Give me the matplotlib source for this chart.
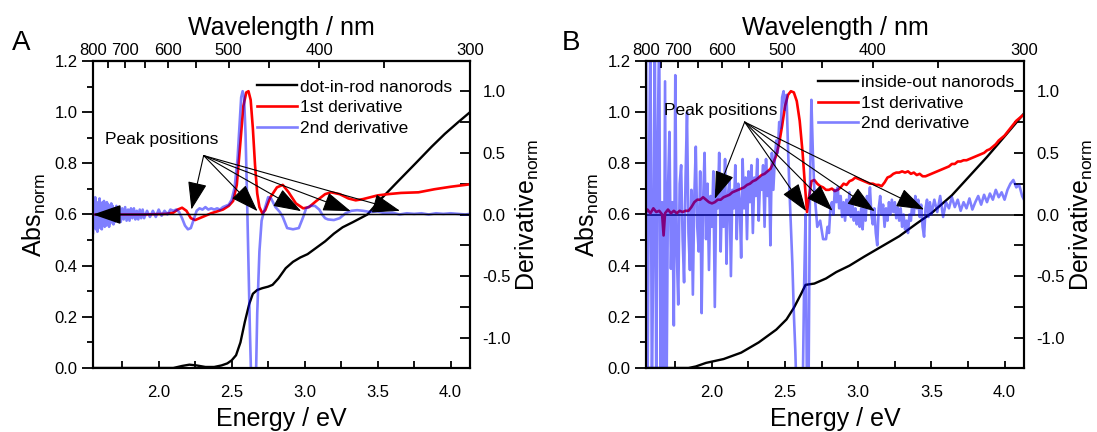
import numpy as np
import matplotlib.pyplot as plt
from matplotlib.ticker import MultipleLocator, FixedLocator, FormatStrFormatter

plt.rcParams['font.family'] = ['Liberation Sans', 'DejaVu Sans']
plt.rcParams['mathtext.default'] = 'regular'

HC = 1239.84
E_MIN, E_MAX = HC / 800, HC / 300

# ---- panel A: dot-in-rod nanorods (energy eV, value) ----
a_abs = [(1.55, 0.0), (2.10, 0.0), (2.16, 0.008), (2.21, 0.013), (2.26, 0.01), (2.32, 0.004),
         (2.38, 0.004), (2.43, 0.01), (2.47, 0.018), (2.50, 0.03), (2.53, 0.05), (2.56, 0.1),
         (2.59, 0.18), (2.62, 0.25), (2.645, 0.29), (2.675, 0.305), (2.71, 0.312), (2.75, 0.318),
         (2.78, 0.325), (2.82, 0.35), (2.87, 0.39), (2.92, 0.415), (2.97, 0.432), (3.02, 0.445),
         (3.08, 0.47), (3.14, 0.495), (3.20, 0.525), (3.26, 0.55), (3.33, 0.57), (3.43, 0.6),
         (3.53, 0.665), (3.64, 0.73), (3.76, 0.8), (3.87, 0.865), (3.96, 0.915), (4.05, 0.96),
         (4.133, 1.0)]

a_d1 = [(1.55, 0.0), (1.70, 0.0), (1.90, 0.0), (2.05, 0.005), (2.10, 0.015), (2.13, 0.04),
        (2.16, 0.055), (2.19, 0.03), (2.22, -0.03), (2.25, -0.045), (2.28, -0.03), (2.32, -0.01),
        (2.36, 0.01), (2.40, 0.025), (2.44, 0.04), (2.48, 0.07), (2.51, 0.11), (2.535, 0.24),
        (2.56, 0.59), (2.58, 0.88), (2.60, 0.99), (2.615, 1.0), (2.63, 0.93), (2.645, 0.7),
        (2.66, 0.4), (2.675, 0.17), (2.69, 0.06), (2.71, 0.01), (2.73, 0.035), (2.765, 0.14),
        (2.81, 0.22), (2.85, 0.24), (2.89, 0.18), (2.94, 0.09), (2.99, 0.05), (3.03, 0.06),
        (3.08, 0.11), (3.14, 0.165), (3.18, 0.18), (3.24, 0.165), (3.30, 0.13), (3.35, 0.115),
        (3.40, 0.125), (3.45, 0.14), (3.50, 0.155), (3.57, 0.165), (3.66, 0.175), (3.78, 0.18),
        (3.89, 0.205), (4.00, 0.225), (4.133, 0.245)]

a_d2 = [(1.55, -0.15), (1.555, 0.12), (1.56, -0.1), (1.565, 0.14), (1.57, -0.12), (1.575, 0.08),
        (1.58, -0.14), (1.585, 0.1), (1.59, -0.06), (1.595, 0.13), (1.60, -0.11), (1.605, 0.07),
        (1.61, -0.12), (1.615, 0.1), (1.62, -0.05), (1.625, 0.11), (1.63, -0.1), (1.635, 0.06),
        (1.64, -0.09), (1.645, 0.1), (1.65, -0.06), (1.655, 0.08), (1.66, -0.1), (1.665, 0.05),
        (1.67, -0.07), (1.675, 0.09), (1.68, -0.05), (1.685, 0.07), (1.69, -0.08), (1.695, 0.05),
        (1.70, -0.06), (1.71, 0.07), (1.72, -0.05), (1.73, 0.06), (1.74, -0.06), (1.75, 0.05),
        (1.76, -0.04), (1.77, 0.06), (1.78, -0.05), (1.79, 0.04), (1.80, -0.05), (1.81, 0.05),
        (1.82, -0.03), (1.83, 0.05), (1.84, -0.04), (1.85, 0.03), (1.86, -0.04), (1.87, 0.04),
        (1.88, -0.03), (1.89, 0.04), (1.90, -0.03), (1.92, 0.03), (1.94, -0.02), (1.96, 0.03),
        (1.98, -0.02), (2.00, 0.04), (2.02, -0.01), (2.04, 0.03), (2.06, 0.0), (2.08, 0.04),
        (2.10, 0.03), (2.12, 0.04), (2.14, 0.02), (2.16, -0.03), (2.18, -0.09), (2.20, -0.12),
        (2.22, -0.11), (2.24, -0.04), (2.26, 0.03), (2.28, 0.05), (2.30, 0.04), (2.32, 0.06),
        (2.34, 0.04), (2.36, 0.05), (2.38, 0.04), (2.40, 0.05), (2.42, 0.04), (2.44, 0.06),
        (2.46, 0.07), (2.48, 0.08), (2.50, 0.12), (2.52, 0.22), (2.54, 0.45), (2.555, 0.75),
        (2.565, 0.95), (2.575, 1.0), (2.585, 0.95), (2.595, 0.65), (2.605, 0.15), (2.615, -0.4),
        (2.625, -0.95), (2.635, -1.4), (2.65, -1.6), (2.665, -1.4), (2.675, -0.8), (2.69, -0.3),
        (2.705, -0.05), (2.72, 0.02), (2.75, 0.14), (2.77, 0.13), (2.80, 0.06), (2.83, 0.02),
        (2.85, -0.02), (2.88, -0.11), (2.92, -0.12), (2.96, -0.11), (2.99, -0.02), (3.01, 0.05),
        (3.04, 0.07), (3.07, 0.07), (3.10, 0.04), (3.12, 0.0), (3.14, -0.03), (3.16, -0.04),
        (3.20, -0.045), (3.24, -0.03), (3.28, 0.01), (3.32, 0.03), (3.36, 0.035), (3.40, 0.03),
        (3.45, 0.02), (3.50, 0.025), (3.55, 0.01), (3.60, 0.015), (3.65, 0.0), (3.70, 0.01),
        (3.75, 0.005), (3.80, 0.01), (3.85, 0.0), (3.90, 0.01), (3.95, 0.005), (4.00, 0.01),
        (4.05, 0.005), (4.10, 0.0), (4.133, 0.005)]

a_label = 'dot-in-rod nanorods'
a_text = (1.634, 0.61)
a_arrow_from = (2.308, 0.478)
a_arrow_to = [(2.224, 0.04), (2.677, 0.027), (2.976, 0.027), (3.316, 0.027), (3.653, 0.03)]

# ---- panel B: inside-out nanorods ----
b_abs = [(1.54, 0.0), (1.84, 0.0), (1.89, 0.006), (1.96, 0.02), (2.08, 0.035), (2.20, 0.06),
         (2.32, 0.1), (2.44, 0.15), (2.51, 0.19), (2.56, 0.235), (2.61, 0.29), (2.64, 0.325),
         (2.70, 0.33), (2.78, 0.35), (2.85, 0.375), (2.94, 0.4), (3.04, 0.435), (3.16, 0.475),
         (3.28, 0.515), (3.40, 0.565), (3.50, 0.605), (3.64, 0.675), (3.76, 0.75), (3.88, 0.825),
         (4.00, 0.905), (4.133, 0.995)]

b_d1 = [(1.54, 0.0), (1.56, 0.04), (1.58, 0.01), (1.60, 0.05), (1.62, 0.02), (1.64, 0.03),
        (1.66, 0.0), (1.67, -0.17), (1.68, 0.01), (1.70, 0.04), (1.72, 0.01), (1.74, 0.03),
        (1.76, 0.01), (1.78, 0.03), (1.80, 0.02), (1.82, 0.03), (1.84, 0.03), (1.86, 0.06),
        (1.88, 0.1), (1.90, 0.12), (1.92, 0.12), (1.94, 0.14), (1.96, 0.12), (1.98, 0.1),
        (2.00, 0.09), (2.02, 0.1), (2.04, 0.12), (2.06, 0.12), (2.08, 0.14), (2.10, 0.15),
        (2.12, 0.16), (2.14, 0.18), (2.16, 0.19), (2.18, 0.2), (2.20, 0.21), (2.22, 0.22),
        (2.24, 0.24), (2.26, 0.25), (2.28, 0.27), (2.30, 0.28), (2.32, 0.3), (2.34, 0.32),
        (2.36, 0.33), (2.38, 0.35), (2.40, 0.37), (2.42, 0.42), (2.44, 0.48), (2.46, 0.58),
        (2.48, 0.72), (2.50, 0.88), (2.52, 0.97), (2.54, 1.0), (2.56, 0.99), (2.58, 0.92),
        (2.60, 0.76), (2.62, 0.5), (2.635, 0.25), (2.65, 0.02), (2.665, 0.15), (2.68, 0.27),
        (2.70, 0.28), (2.72, 0.25), (2.74, 0.23), (2.76, 0.22), (2.78, 0.2), (2.80, 0.2),
        (2.82, 0.21), (2.84, 0.19), (2.86, 0.2), (2.88, 0.22), (2.90, 0.25), (2.92, 0.24),
        (2.94, 0.27), (2.96, 0.28), (2.98, 0.3), (3.00, 0.29), (3.02, 0.28), (3.04, 0.27),
        (3.06, 0.26), (3.08, 0.25), (3.10, 0.25), (3.12, 0.24), (3.14, 0.24), (3.16, 0.23),
        (3.18, 0.26), (3.20, 0.3), (3.22, 0.31), (3.24, 0.33), (3.26, 0.34), (3.28, 0.34),
        (3.30, 0.35), (3.32, 0.34), (3.34, 0.35), (3.36, 0.33), (3.38, 0.34), (3.40, 0.32),
        (3.42, 0.33), (3.44, 0.31), (3.46, 0.31), (3.48, 0.32), (3.50, 0.33), (3.52, 0.34),
        (3.54, 0.35), (3.56, 0.36), (3.58, 0.37), (3.60, 0.38), (3.62, 0.39), (3.64, 0.41),
        (3.66, 0.41), (3.68, 0.43), (3.70, 0.43), (3.72, 0.44), (3.74, 0.44), (3.76, 0.45),
        (3.78, 0.46), (3.80, 0.47), (3.82, 0.48), (3.84, 0.49), (3.86, 0.5), (3.88, 0.52),
        (3.90, 0.53), (3.92, 0.55), (3.94, 0.57), (3.96, 0.6), (3.98, 0.62), (4.00, 0.64),
        (4.02, 0.67), (4.04, 0.7), (4.06, 0.73), (4.08, 0.76), (4.10, 0.78), (4.12, 0.8),
        (4.133, 0.81)]

b_d2 = [(1.54, 0.05), (1.55, 1.5), (1.56, -1.5), (1.57, 0.3), (1.58, 1.5), (1.59, -1.5),
        (1.60, -0.2), (1.61, 1.5), (1.62, -1.5), (1.63, 0.6), (1.64, 1.5), (1.65, -1.5),
        (1.66, 0.1), (1.67, -1.5), (1.68, 1.08), (1.69, -1.5), (1.70, 0.2), (1.71, 0.67),
        (1.72, -0.44), (1.73, 0.1), (1.74, -0.9), (1.75, 1.13), (1.76, -0.3), (1.77, -0.73),
        (1.78, 0.25), (1.79, 0.4), (1.80, -0.2), (1.81, -0.55), (1.82, 0.3), (1.83, 0.83),
        (1.84, -0.15), (1.85, -0.45), (1.86, 0.2), (1.87, -0.65), (1.88, 0.15), (1.89, 0.55),
        (1.90, -0.1), (1.91, -0.3), (1.92, 0.35), (1.93, -0.8), (1.94, 0.1), (1.95, 0.5),
        (1.96, -0.2), (1.97, 0.25), (1.98, -0.45), (1.99, 0.15), (2.00, -0.1), (2.01, 0.35),
        (2.02, -0.75), (2.03, 0.2), (2.04, 0.05), (2.05, 0.5), (2.06, -0.3), (2.07, 0.2),
        (2.08, -0.1), (2.09, 0.45), (2.10, -0.4), (2.11, 0.15), (2.12, 0.3), (2.13, -0.5),
        (2.14, 0.2), (2.15, 0.05), (2.16, 0.4), (2.17, -0.2), (2.18, 0.25), (2.19, 0.1),
        (2.20, -0.35), (2.21, 0.45), (2.22, 0.05), (2.23, 0.3), (2.24, -0.2), (2.25, 0.35),
        (2.26, 0.1), (2.27, 0.4), (2.28, -0.15), (2.29, 0.3), (2.30, 0.15), (2.31, 0.45),
        (2.32, -0.05), (2.33, 0.3), (2.34, 0.2), (2.35, 0.4), (2.36, -0.1), (2.37, 0.45),
        (2.38, 0.15), (2.39, 0.35), (2.40, -0.25), (2.41, 0.5), (2.42, 0.2), (2.43, 0.45),
        (2.44, 0.6), (2.45, 0.5), (2.46, 0.75), (2.47, 0.7), (2.48, 0.95), (2.49, 1.0),
        (2.50, 0.85), (2.51, 0.97), (2.52, 0.55), (2.53, 0.2), (2.54, -0.1), (2.55, -0.4),
        (2.56, -0.8), (2.57, -1.1), (2.58, -1.5), (2.60, -1.6), (2.62, -1.5), (2.63, -0.6),
        (2.64, 0.0), (2.65, -1.5), (2.66, -1.5), (2.67, 0.2), (2.68, 0.93), (2.69, 0.5),
        (2.70, 0.2), (2.72, -0.1), (2.74, -0.05), (2.76, -0.2), (2.78, -0.2), (2.79, -0.1),
        (2.80, -0.15), (2.81, 0.05), (2.82, 0.1), (2.83, 0.0), (2.84, 0.2), (2.85, 0.1),
        (2.86, 0.22), (2.87, 0.05), (2.88, 0.15), (2.89, -0.02), (2.90, 0.1), (2.91, -0.05),
        (2.92, 0.12), (2.93, 0.0), (2.94, 0.18), (2.95, -0.02), (2.96, 0.1), (2.97, -0.05),
        (2.98, 0.05), (2.99, -0.08), (3.00, 0.02), (3.01, -0.1), (3.02, 0.05), (3.03, -0.12),
        (3.04, 0.1), (3.05, -0.05), (3.06, 0.15), (3.07, 0.05), (3.08, 0.22), (3.09, 0.0),
        (3.10, -0.08), (3.11, 0.05), (3.12, -0.15), (3.13, -0.25), (3.14, 0.05), (3.15, 0.15),
        (3.16, 0.0), (3.17, 0.08), (3.18, -0.1), (3.19, 0.05), (3.20, -0.05), (3.21, 0.1),
        (3.22, 0.0), (3.23, 0.12), (3.24, 0.02), (3.25, 0.1), (3.26, -0.03), (3.27, 0.06),
        (3.28, -0.05), (3.29, 0.05), (3.30, -0.1), (3.31, 0.0), (3.32, -0.12), (3.33, -0.05),
        (3.34, -0.15), (3.35, 0.0), (3.36, -0.05), (3.37, 0.1), (3.38, 0.0), (3.39, 0.15),
        (3.40, 0.05), (3.41, 0.12), (3.42, -0.02), (3.43, 0.08), (3.44, -0.1), (3.45, -0.18),
        (3.46, 0.05), (3.47, 0.12), (3.48, -0.02), (3.49, 0.1), (3.50, 0.0), (3.52, 0.12),
        (3.54, 0.02), (3.56, 0.15), (3.58, -0.02), (3.60, 0.1), (3.62, 0.05), (3.64, 0.14),
        (3.66, 0.06), (3.68, 0.12), (3.70, 0.03), (3.72, 0.1), (3.74, 0.05), (3.76, 0.13),
        (3.78, 0.04), (3.80, 0.1), (3.82, 0.15), (3.84, 0.08), (3.86, 0.16), (3.88, 0.1),
        (3.90, 0.17), (3.92, 0.12), (3.94, 0.2), (3.96, 0.14), (3.98, 0.18), (4.00, 0.12),
        (4.02, 0.2), (4.04, 0.25), (4.06, 0.28), (4.08, 0.22), (4.10, 0.24), (4.12, 0.15),
        (4.133, 0.12)]

b_label = 'inside-out nanorods'
b_text = (1.67, 0.84)
b_arrow_from = (2.224, 0.75)
b_arrow_to = [(2.02, 0.127), (2.644, 0.027), (2.825, 0.03), (3.113, 0.027), (3.45, 0.04)]

wl_major = [800, 700, 600, 500, 400, 300]
wl_minor = [750, 650, 550, 450, 350]


def e2nm(x):
    x = np.asarray(x, dtype=float)
    with np.errstate(divide='ignore'):
        return HC / x


def arrow_props(lw=0.8):
    return dict(arrowstyle='-|>,head_length=1.1,head_width=0.38', mutation_scale=16,
                lw=lw, color='k', shrinkA=0, shrinkB=0)


def draw_panel(ax, absd, d1, d2, label, text_xy, arr_from, arr_to, leg_anchor, zero_arrow):
    ax2 = ax.twinx()
    e, a = np.array(absd).T
    l0, = ax.plot(e, a, color='black', lw=1.7)
    ax.set_xlim(E_MIN, E_MAX)
    ax.set_ylim(0, 1.2)
    ax2.set_ylim(-1.245, 1.245)

    # zero line of the derivatives
    if zero_arrow:
        ax2.annotate('', xy=(E_MIN, 0), xytext=(E_MAX, 0), arrowprops=arrow_props(1.1))
    else:
        ax2.axhline(0, color='k', lw=1.1)

    e1, v1 = np.array(d1).T
    l1, = ax2.plot(e1, v1, color='#ff0000', lw=1.9)
    e2, v2 = np.array(d2).T
    l2, = ax2.plot(e2, v2, color='#0000ff', alpha=0.5, lw=1.9)

    ax2.text(text_xy[0], text_xy[1], 'Peak positions', fontsize=12.5, va='center', ha='left')
    for tip in arr_to:
        ax2.annotate('', xy=tip, xytext=arr_from, arrowprops=arrow_props())

    ax2.legend([l0, l1, l2], [label, '1st derivative', '2nd derivative'],
               loc='upper left', bbox_to_anchor=leg_anchor, frameon=False, fontsize=12.5,
               handlelength=2.3, handletextpad=0.2, labelspacing=0.32, borderpad=0,
               borderaxespad=0)

    # axes styling
    ax.xaxis.set_major_locator(MultipleLocator(0.5))
    ax.xaxis.set_minor_locator(MultipleLocator(0.25))
    ax.xaxis.set_major_formatter(FormatStrFormatter('%.1f'))
    ax.yaxis.set_major_locator(MultipleLocator(0.2))
    ax.yaxis.set_minor_locator(MultipleLocator(0.1))
    ax.yaxis.set_major_formatter(FormatStrFormatter('%.1f'))
    ax2.yaxis.set_major_locator(MultipleLocator(0.5))
    ax2.yaxis.set_minor_locator(MultipleLocator(0.25))
    ax2.yaxis.set_major_formatter(FormatStrFormatter('%.1f'))

    ax.tick_params(axis='x', which='both', direction='in', length=5, width=1.3,
                   labelsize=12, pad=12, top=False)
    ax.tick_params(axis='y', which='major', direction='out', length=8, width=1.3,
                   labelsize=12, pad=3)
    ax.tick_params(axis='y', which='minor', direction='out', length=4, width=1.3)
    ax2.tick_params(axis='y', which='both', direction='in', length=7, width=1.3,
                    labelsize=12, pad=9)

    for a_ in (ax, ax2):
        for sp in a_.spines.values():
            sp.set_linewidth(1.5)

    sec = ax.secondary_xaxis('top', functions=(e2nm, e2nm))
    sec.xaxis.set_major_locator(FixedLocator(wl_major))
    sec.xaxis.set_minor_locator(FixedLocator(wl_minor))
    sec.tick_params(axis='x', which='both', direction='in', length=5, width=1.3,
                    labelsize=12, pad=2)
    sec.spines['top'].set_linewidth(1.5)
    sec.set_xlabel('Wavelength / nm', fontsize=18, labelpad=6)

    ax.set_xlabel('Energy / eV', fontsize=18, labelpad=5)
    ax.set_ylabel('Abs$_{norm}$', fontsize=18, labelpad=5)
    ax2.set_ylabel('Derivative$_{norm}$', fontsize=18, labelpad=2)
    return ax2


fig = plt.figure(figsize=(10.97, 4.32), dpi=100)
axA = fig.add_axes([93 / 1097, 64 / 432, 377 / 1097, 307 / 432])
axB = fig.add_axes([646 / 1097, 64 / 432, 378 / 1097, 307 / 432])

draw_panel(axA, a_abs, a_d1, a_d2, a_label, a_text, a_arrow_from, a_arrow_to,
           (0.435, 0.94), True)
draw_panel(axB, b_abs, b_d1, b_d2, b_label, b_text, b_arrow_from, b_arrow_to,
           (0.455, 0.955), False)

fig.text(12 / 1097, 1 - 43 / 432, 'A', fontsize=20, va='center', ha='left')
fig.text(562 / 1097, 1 - 43 / 432, 'B', fontsize=20, va='center', ha='left')

fig.savefig('out.png', dpi=100)
